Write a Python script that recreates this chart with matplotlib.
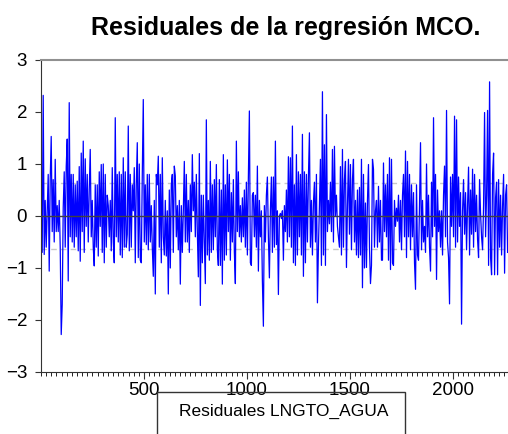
import numpy as np
import matplotlib
matplotlib.use("Agg")
import matplotlib.pyplot as plt
from matplotlib.patches import Rectangle
from matplotlib.ticker import MultipleLocator

# residuals, roughly one value per pixel column (7 strips)
resid_a = [0.6, -0.7, 2.32, -0.74, 0.3, -0.6, 0.1, 0.8, -1.06, 0.7, 1.53, -0.3, 0.7, -0.5,
           1.09, -0.3, 0.2, -0.3, 0.3, -0.6, -2.28, -1.7, 0.16, 0.85, -0.6, 0.95, 1.48, -1.25,
           2.18, -0.4, 0.8, -0.5, 0.8, -0.6, 0.6, -0.4, 0.67, -0.67, 0.95, -0.87, 1.21, -0.3,
           1.44, -0.7, 1.1, -0.2, 0.8, -0.5, 0.5, 1.28, -0.4, 0.3, -0.6, -0.96, 0.6, -0.6, 0.6,
           -0.77, 0.85, -0.2, 0.99, -0.7, 1.0, -0.9, 0.8, -0.6, 0.4]
resid_b = [0.2, -0.4, 0.3, -0.67, 0.93, -0.5, -0.9, 1.89, -0.4, 0.8, -0.5, 0.85, -0.75, 0.8,
           -0.8, 1.12, -0.6, 0.85, -0.6, -0.35, 1.73, -0.67, 0.8, -0.6, 0.6, 0.1, 0.93, -0.9,
           0.6, 1.41, -0.8, 1.0, -0.85, -0.9, 0.8, 2.24, -0.5, 0.6, -0.55, 0.8, -0.65, 0.8,
           -0.5, 0.2, -0.6, -1.16, 0.3, -1.5, 0.8, 0.6, 1.15, -0.6, 0.8, -0.9, 1.12, -0.4,
           -0.75, 0.3, -0.77, 0.1, -1.5, 0.5, -1.0, 0.6, 0.8, -0.7, 0.96]
resid_c = [0.77, -0.4, 0.2, -0.65, 0.3, -1.31, 0.2, -0.7, 0.1, 1.05, -0.5, 0.8, -0.5, 0.3,
           -0.7, 0.6, -0.3, 1.18, 0.1, 0.65, -0.4, 0.8, -0.3, -1.17, 1.2, -1.72, 0.4, -0.9,
           0.4, -0.5, -1.3, 1.85, -0.75, 0.3, -0.85, 1.05, -0.7, 0.6, -0.65, 0.7, -0.4, 0.99,
           -0.65, -0.95, 0.7, -0.95, 0.5, -1.31, 1.18, -0.85, 0.6, -0.75, 1.08, -0.3, 0.8,
           -0.85, 0.45, -0.5, 0.7, -0.7, -1.3, 1.44, -0.3, 0.85, -0.4, 0.2, -0.5]
resid_d = [0.35, -0.4, 0.5, -0.6, 0.65, -0.75, 0.75, 2.02, -0.9, -0.95, 0.4, 0.45, -0.4, 0.4,
           -0.6, 0.96, -1.06, 0.3, -0.4, 0.1, -1.25, -2.12, 0.2, -0.5, 0.4, 0.75, -0.4, -1.19,
           0.1, 0.75, -0.7, 0.75, -0.6, 1.44, -0.55, 0.1, -1.51, 0.0, 0.05, -0.05, 0.1, -0.85,
           0.2, -0.3, 0.5, -0.5, 1.14, -0.4, 1.12, -0.6, 1.73, -0.9, 0.6, -0.95, 1.18, -0.75,
           0.85, -0.4, 0.8, -0.75, 1.57, -1.16, 0.85, -0.9, 0.8, -0.5, 0.75]
resid_e = [1.6, -0.6, 0.3, -0.75, 0.25, 0.65, -0.5, 0.8, -1.67, -0.6, 0.2, 1.09, -0.95, 2.39,
           -0.75, 1.37, -0.95, 1.95, -0.3, 0.3, -0.15, 0.65, -0.3, 1.28, -0.5, 1.34, 0.0, 0.4,
           -0.2, -0.4, -0.6, 0.95, -0.75, 1.28, -0.6, 0.7, 1.05, -0.99, 0.2, 1.09, -0.35, 0.99,
           -0.65, 0.7, 1.09, -0.5, 0.3, -0.75, 0.5, -0.8, 0.55, -0.75, 1.09, -1.38, 0.8, -1.0,
           0.25, -0.99, 0.3, 0.99, -0.6, -1.3, -0.95, 1.09, 0.9, -0.6, 0.1]
resid_f = [0.3, -0.6, 0.57, -0.5, 0.3, -0.85, -0.85, 1.02, -0.3, 0.6, -0.4, 0.8, -0.85, 1.12,
           -1.03, 1.09, -0.9, -0.95, 0.3, -0.2, 0.15, -0.1, 0.4, -0.5, 0.3, -0.65, 0.4, 0.8,
           -0.4, 1.25, -0.8, 1.05, -0.4, 0.8, -0.65, 0.6, -0.4, 0.45, -0.9, -1.41, 0.6, -0.75,
           -0.85, 0.2, 1.41, -0.65, 0.3, -0.5, -0.2, -0.7, 1.0, -0.4, 0.4, -0.6, -1.06, 0.65,
           -0.4, 1.89, -0.2, 0.8, -1.22, 0.5, -0.3, 0.1, -0.6, 0.1, -0.75]
resid_g = [0.4, 0.96, -0.4, 2.03, -0.5, -0.8, -1.69, 0.75, -0.2, 0.8, -0.4, 1.92, -0.6, 1.85,
           -0.5, 0.75, -0.2, 0.45, -2.08, 0.1, 0.7, -0.35, 0.45, -0.65, 0.2, 0.94, -0.75, 0.5,
           -0.35, 0.9, -0.6, 0.8, -0.3, 0.4, -0.45, -0.8, 0.7, 0.05, -0.4, -0.65, 0.2, 1.99,
           -0.4, 0.4, 2.03, -0.95, 2.58, -0.8, -1.13, 0.8, 1.21, -1.13, 0.35, 0.65, -1.13, 0.7,
           -0.6, 0.4, -0.75, 0.2, 0.8, -1.1, 0.4, 0.6, -0.7]

n_obs = 2265
band = 0.63          # dashed reference lines (+/- 1 s.d.)
y_ticks = [-3, -2, -1, 0, 1, 2, 3]
x_ticks = [500, 1000, 1500, 2000]

resid = np.array(resid_a + resid_b + resid_c + resid_d + resid_e + resid_f + resid_g)
obs = np.linspace(1, n_obs, len(resid))

plt.rcParams["font.family"] = ["Liberation Sans", "DejaVu Sans"]

fig = plt.figure(figsize=(5.08, 4.34), dpi=100)
ax = fig.add_axes([41/508, 1 - 372/434, 1 - 41/508, (372 - 60)/434])

ax.axhline(band, color="#c8c8c8", lw=1, ls=(0, (4, 3)), zorder=1)
ax.axhline(-band, color="#c8c8c8", lw=1, ls=(0, (4, 3)), zorder=1)
ax.plot(obs, resid, color="#0000ff", lw=0.9, zorder=2)
ax.axhline(0, color="#404040", lw=1, zorder=3)

ax.set_xlim(0, 2267)
ax.set_ylim(-3, 3)
ax.set_yticks(y_ticks)
ax.set_xticks(x_ticks)
ax.xaxis.set_minor_locator(MultipleLocator(25))
ax.tick_params(axis="both", labelsize=13.5, direction="out", color="#333333")
ax.tick_params(axis="y", length=4, pad=6)
ax.tick_params(axis="x", which="major", length=5, pad=2)
ax.tick_params(axis="x", which="minor", length=3)

ax.spines["right"].set_visible(False)
ax.spines["top"].set_color("#909090")
ax.spines["top"].set_linewidth(1.5)
for s in ("left", "bottom"):
    ax.spines[s].set_color("#333333")

fig.text(286/508, 1 - 28/434, "Residuales de la regresión MCO.", ha="center",
         va="center", fontsize=18, fontweight="bold")

# legend box, cut by the bottom edge
fig.patches.append(Rectangle((157/508, -0.05), (405 - 157)/508, 0.05 + (434 - 392)/434,
                             transform=fig.transFigure, fill=False, ec="#333333", lw=1))
fig.text(284/508, 1 - 411/434, "Residuales LNGTO_AGUA", ha="center", va="center", fontsize=12.5)

fig.savefig("out.png", dpi=100)
